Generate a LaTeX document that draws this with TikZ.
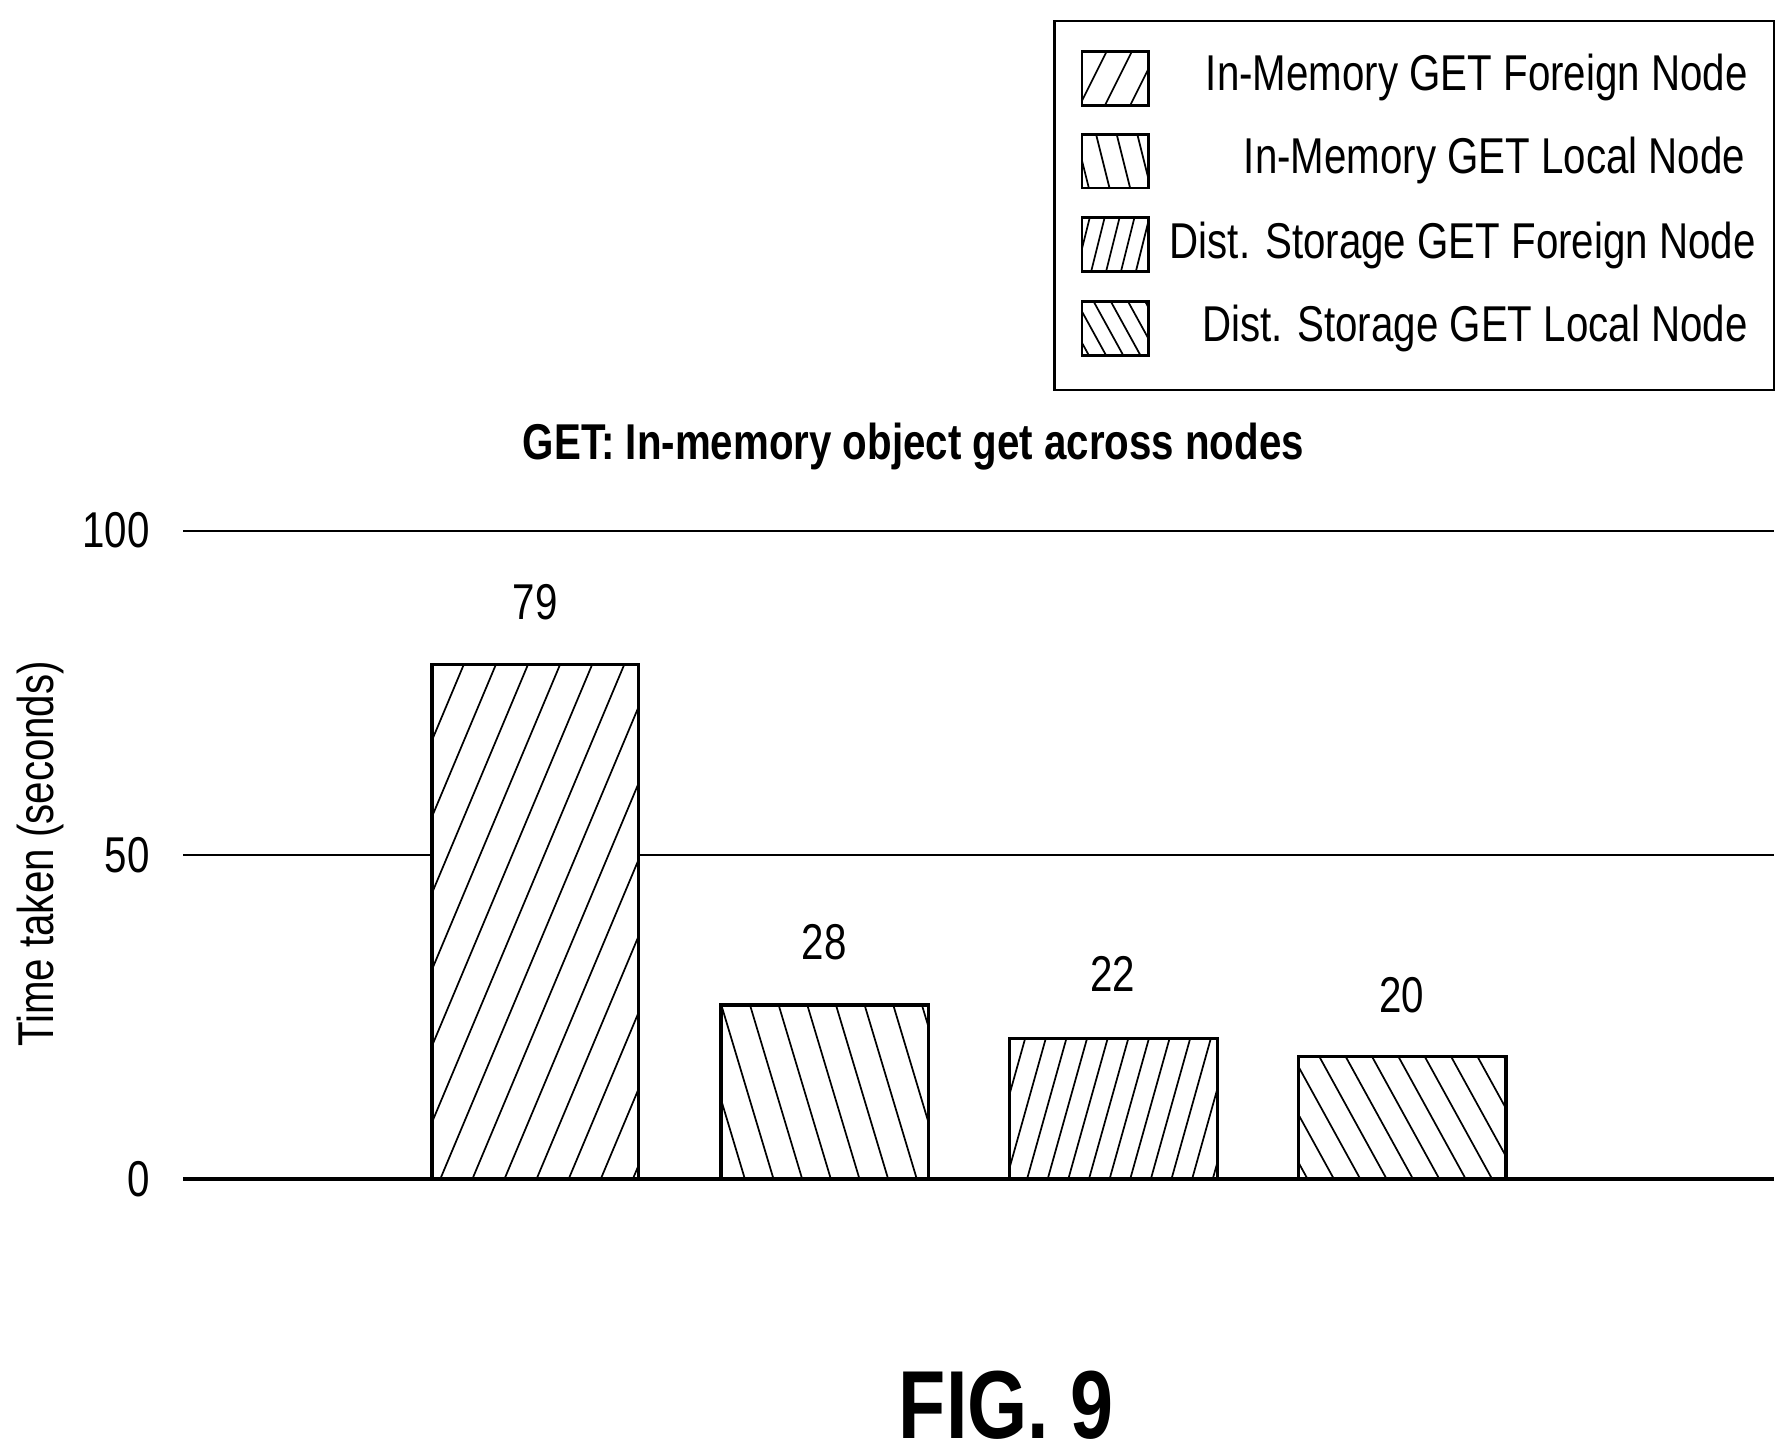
\documentclass[tikz,border=0pt]{standalone}
\usepackage{fontspec}
\setmainfont{Liberation Sans}[FakeStretch=0.8]
\begin{document}
\begin{tikzpicture}[x=0.02cm,y=-0.02cm,
  lab/.style={inner sep=0pt,font=\fontsize{25}{30}\selectfont},
  bar/.style={draw,line width=1.7pt},
  grid/.style={line width=1.1pt}]
\newcommand{\hatchbox}[6]{%
  \begin{scope}
  \clip (#1,#2) rectangle (#3,#4);
  \pgfmathsetmacro{\hh}{#4-#2}
  \pgfmathtruncatemacro{\sB}{-400+#6}
  \foreach \s in {-400,\sB,...,1700}{%
    \draw[line width=0.85pt] ({\s},#4) -- ++({#5*\hh},{-\hh});}
  \end{scope}}
\useasboundingbox (0,0) rectangle (1560,1270);
% legend
\draw[line width=1.1pt] (920,18) rectangle (1548,340);
\foreach \y/\sl/\sp in {45/0.5/22,117/-0.25/18,190/0.25/13,263/-0.55/15}{
  \pgfmathtruncatemacro{\yb}{\y+47}
  \hatchbox{944}{\y}{1002}{\yb}{\sl}{\sp}
  \draw[line width=1.4pt] (944,\y) rectangle (1002,\yb);
}
\node[lab,anchor=east] (l1) at (1525,68) {In-Memory GET Foreign Node};
\node[lab,anchor=east] (l2) at (1523,140) {In-Memory GET Local Node};
\node[lab,anchor=east] (l3) at (1532,214) {Dist. Storage GET Foreign Node};
\node[lab,anchor=east] (l4) at (1525,287) {Dist. Storage GET Local Node};
% title
\node[lab,font=\bfseries\fontsize{25}{30}\selectfont] (title) at (797,390) {GET: In-memory object get across nodes};
% grid
\draw[grid] (160,463) -- (1548,463);
\draw[grid] (160,746) -- (1548,746);
\node[lab,anchor=east] (t100) at (131,463) {100};
\node[lab,anchor=east] (t50) at (131,746) {50};
\node[lab,anchor=east] (t0) at (131,1029) {0};
\node[lab,rotate=90] (ylab) at (35,745) {Time taken (seconds)};
% bars
\fill[white] (377,580) rectangle (557,1029);
\hatchbox{377}{580}{557}{1029}{0.42}{28}
\draw[bar] (377,1029) |- (557,580) -- (557,1029);
\hatchbox{629}{877}{810}{1029}{-0.3}{25}
\draw[bar] (629,1029) |- (810,877) -- (810,1029);
\hatchbox{881}{906}{1062}{1029}{0.28}{18}
\draw[bar] (881,1029) |- (1062,906) -- (1062,1029);
\hatchbox{1133}{922}{1314}{1029}{-0.55}{23}
\draw[bar] (1133,1029) |- (1314,922) -- (1314,1029);
\draw[line width=2pt] (160,1029) -- (1548,1029);
\node[lab] (v1) at (467,525) {79};
\node[lab] (v2) at (719,822) {28};
\node[lab] (v3) at (971,850) {22};
\node[lab] (v4) at (1223,868) {20};
\node[inner sep=0pt,font=\bfseries\fontsize{48}{58}\selectfont] (fig) at (878,1226) {FIG. 9};
\end{tikzpicture}
\end{document}
